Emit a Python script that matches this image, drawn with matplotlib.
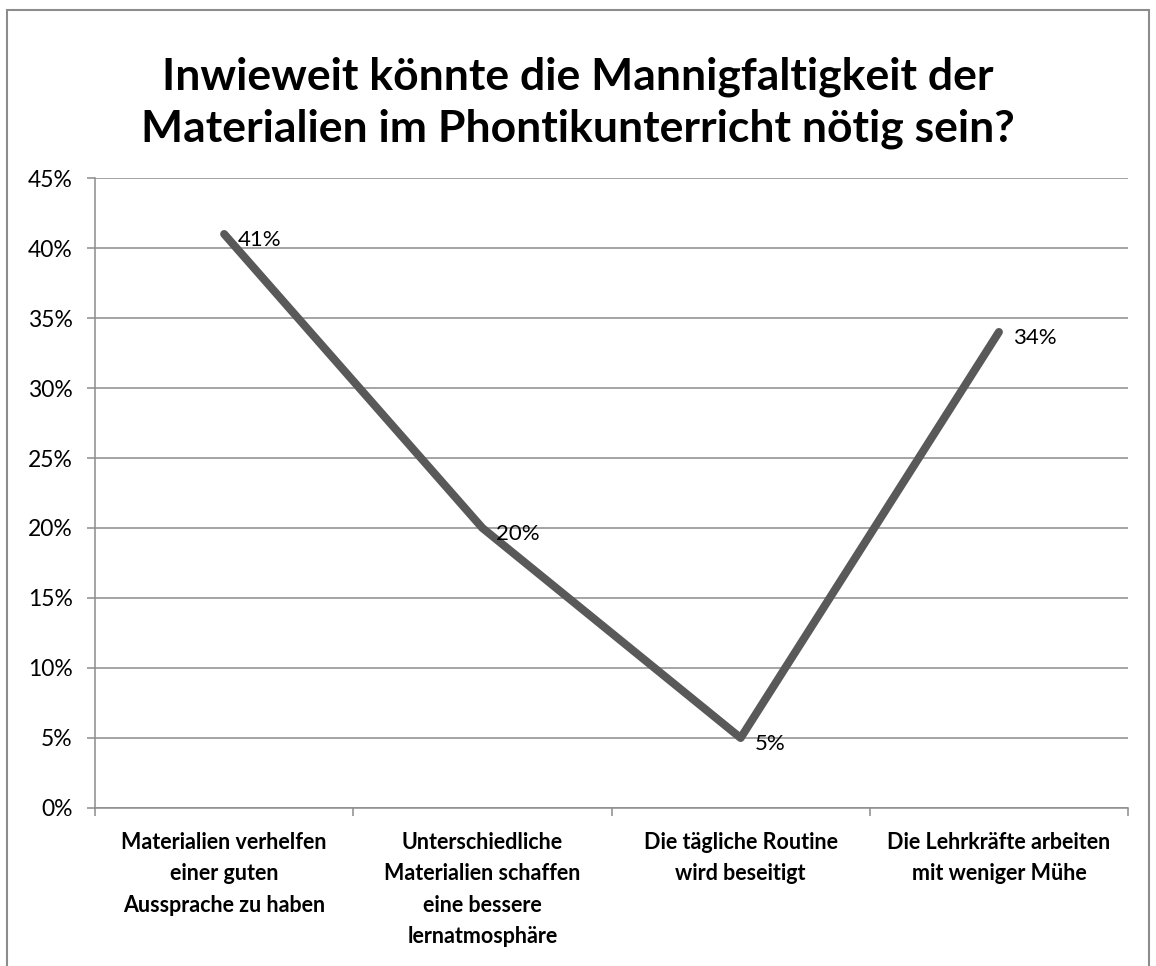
import matplotlib.pyplot as plt
from matplotlib.patches import Rectangle
from matplotlib.ticker import PercentFormatter

categories = [
    "Materialien verhelfen\neiner guten\nAussprache zu haben",
    "Unterschiedliche\nMaterialien schaffen\neine bessere\nlernatmosphäre",
    "Die tägliche Routine\nwird beseitigt",
    "Die Lehrkräfte arbeiten\nmit weniger Mühe",
]
values = [41, 20, 5, 34]
yticks = [0, 5, 10, 15, 20, 25, 30, 35, 40, 45]
title = "Inwieweit könnte die Mannigfaltigkeit der\nMaterialien im Phontikunterricht nötig sein?"

plt.rcParams['font.family'] = ['Lato', 'DejaVu Sans']

fig = plt.figure(figsize=(11.56, 9.66), dpi=100)
ax = fig.add_axes([0.0822, 0.1636, 0.8936, 0.6521])

x = list(range(len(values)))
ax.plot(x, values, color='#595959', lw=5.8, solid_capstyle='round', solid_joinstyle='round', zorder=3)
for xi, v in zip(x, values):
    ax.annotate(f"{v}%", (xi, v), xytext=(10, -4), textcoords='offset points',
                ha='left', va='center', fontsize=16, color='black', zorder=4)

ax.set_xlim(-0.5, len(values) - 0.5)
ax.set_ylim(0, 45)
ax.set_yticks(yticks)
ax.yaxis.set_major_formatter(PercentFormatter(decimals=0))
ax.grid(axis='y', color='#8c8c8c', lw=1.1)
ax.set_axisbelow(True)

ax.set_xticks(x)
ax.set_xticklabels(categories, fontsize=15.5, fontweight='bold', linespacing=1.62, va='top')
ax.set_xticks([i - 0.5 for i in range(len(values) + 1)], minor=True)
ax.tick_params(axis='x', which='major', length=0, pad=17)
ax.tick_params(axis='x', which='minor', length=6, color='#8c8c8c', width=1.1)
ax.tick_params(axis='y', length=6, color='#8c8c8c', width=1.1, labelsize=16.5, pad=10)

for side in ['top', 'right']:
    ax.spines[side].set_visible(False)
for side in ['left', 'bottom']:
    ax.spines[side].set_color('#8c8c8c')
    ax.spines[side].set_linewidth(1.1)

fig.text(0.5, 0.894, title, ha='center', va='center', fontsize=32, fontweight='bold',
         linespacing=1.35)

fig.patches.append(Rectangle((0.006, -0.01), 0.988, 1.0, transform=fig.transFigure,
                             fill=False, edgecolor='#8c8c8c', lw=1.5))

fig.savefig('out.png', dpi=100)
